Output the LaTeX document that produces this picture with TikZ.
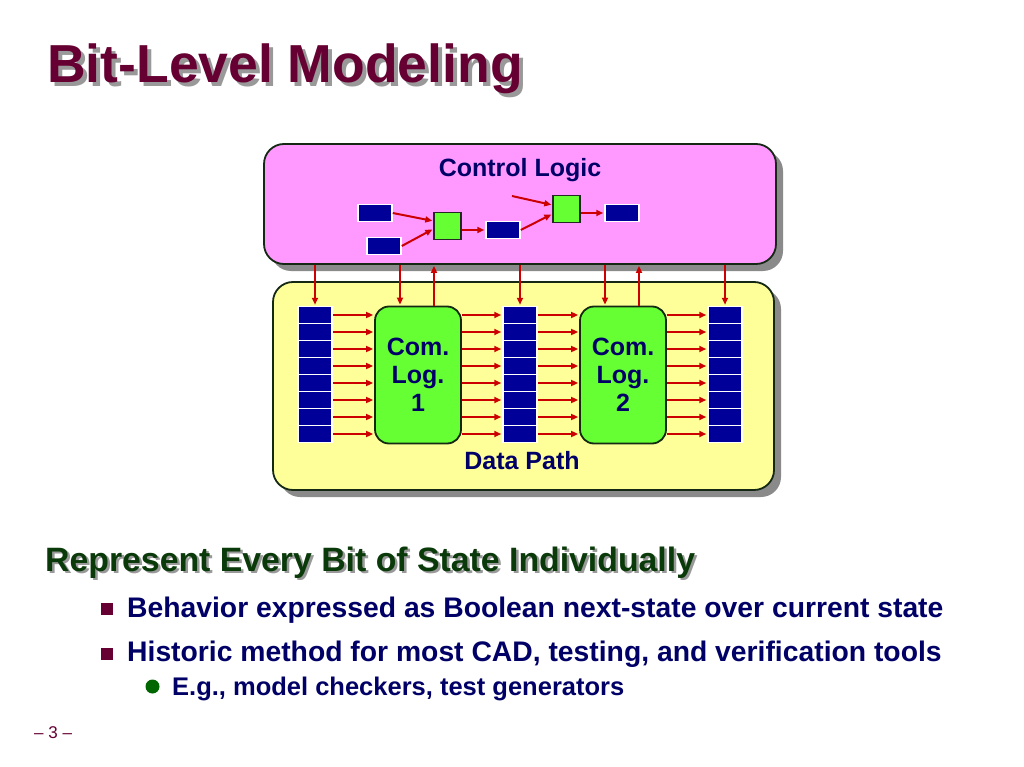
\documentclass[tikz,border=0pt]{standalone}
\usepackage{fontspec}
\setmainfont{Liberation Sans}
\usetikzlibrary{arrows.meta,shadows}
\definecolor{maroon}{HTML}{660033}
\definecolor{shade}{HTML}{999999}
\definecolor{boxshade}{HTML}{8A8A8A}
\definecolor{pinkfill}{HTML}{FF99FF}
\definecolor{yellowfill}{HTML}{FFFF99}
\definecolor{limefill}{HTML}{66FF33}
\definecolor{navyreg}{HTML}{000099}
\definecolor{navytext}{HTML}{000066}
\definecolor{wire}{HTML}{CC0000}
\definecolor{darkgreen}{HTML}{0A3A0A}
\definecolor{dotgreen}{HTML}{006600}
\definecolor{boxline}{HTML}{142814}
\newcommand\fsz[1]{\fontsize{#1}{#1}\selectfont}
\begin{document}
\begin{tikzpicture}[x=1pt,y=-1pt,
  bigbox/.style={draw=boxline, line width=1.8pt, rounded corners=20pt, inner sep=0pt,
     drop shadow={shadow xshift=7pt, shadow yshift=-7pt, fill=boxshade, opacity=1}},
  reg/.style={fill=navyreg, draw=white, line width=1.5pt, minimum width=34pt, minimum height=17pt, inner sep=0pt},
  gate/.style={fill=limefill, draw=black!85, line width=1.5pt, minimum size=27pt, inner sep=0pt},
  comb/.style={fill=limefill, draw=boxline, line width=1.8pt, rounded corners=14pt, minimum width=86pt, minimum height=137pt, inner sep=0pt, align=center, text=navytext, font=\bfseries\fontsize{25}{28}\selectfont},
  arr/.style={draw=wire, line width=2pt, shorten >=1pt, -{Triangle[length=7pt,width=6pt]}},
  lbl/.style={text=navytext, font=\bfseries\fsz{25}, inner sep=0pt, anchor=base},
  txt/.style={anchor=base west, inner sep=0pt},
]
\useasboundingbox (0,0) rectangle (1024,767);
\fill[white] (0,0) rectangle (1024,767);

% title
\node[txt, font=\bfseries\fsz{53.5}, text=shade] (titleshadow) at (51,87) {Bit-Level Modeling};
\node[txt, font=\bfseries\fsz{53.5}, text=maroon] (title) at (47,83) {Bit-Level Modeling};

% boxes
\node[bigbox, fill=pinkfill, minimum width=512pt, minimum height=120pt] (ctrl) at (520,204) {};
\node[lbl] (ctrltext) at (520,177) {Control Logic};
\node[bigbox, fill=yellowfill, minimum width=501pt, minimum height=208pt] (dp) at (523.5,386) {};
\node[lbl] (dptext) at (522,469) {Data Path};

% control logic internals
\node[reg] (c1) at (375,213) {};
\node[reg] (c2) at (384,246) {};
\node[reg] (c3) at (503,230) {};
\node[reg] (c4) at (622,213) {};
\node[gate] (g1) at (447.5,226) {};
\node[gate] (g2) at (566.5,209) {};
\coordinate (in2) at (512,196);
\draw[arr] (c1.east) -- ([yshift=5pt]g1.west);
\draw[arr] (c2.east) -- ([yshift=-3pt]g1.west);
\draw[arr] (g1.east |- c3) -- (c3.west);
\draw[arr] (c3.east) -- ([yshift=-5pt]g2.west);
\draw[arr] (in2) -- ([yshift=4pt]g2.west);
\draw[arr] (g2.east |- c4) -- (c4.west);

% data path
\foreach \c/\x in {1/315,2/520,3/725}
  \foreach \i in {0,...,7}
    \node[reg] (r\c-\i) at (\x,{315+17*\i}) {};
\node[comb] (cl1) at (418,375) {Com.\\Log.\\1};
\node[comb] (cl2) at (623,375) {Com.\\Log.\\2};
\foreach \i in {0,...,7} {
  \draw[arr] (r1-\i.east) -- (cl1.west |- r1-\i);
  \draw[arr] (cl1.east |- r1-\i) -- (r2-\i.west);
  \draw[arr] (r2-\i.east) -- (cl2.west |- r2-\i);
  \draw[arr] (cl2.east |- r2-\i) -- (r3-\i.west);
}
\coordinate (d1) at ([xshift=-18pt]cl1.north);
\coordinate (u1) at ([xshift=16pt]cl1.north);
\coordinate (d2) at ([xshift=-18pt]cl2.north);
\coordinate (u2) at ([xshift=16pt]cl2.north);
\draw[arr] (ctrl.south -| r1-0) -- (r1-0.north);
\draw[arr] (ctrl.south -| d1) -- (d1);
\draw[arr] (u1) -- (ctrl.south -| u1);
\draw[arr] (ctrl.south -| r2-0) -- (r2-0.north);
\draw[arr] (ctrl.south -| d2) -- (d2);
\draw[arr] (u2) -- (ctrl.south -| u2);
\draw[arr] (ctrl.south -| r3-0) -- (r3-0.north);

% text
\node[txt, font=\bfseries\fsz{33.8}, text=shade] (headshadow) at (47.5,573.5) {Represent Every Bit of State Individually};
\node[txt, font=\bfseries\fsz{33.8}, text=darkgreen] (head) at (45,571) {Represent Every Bit of State Individually};
\node[fill=maroon, minimum size=12pt, inner sep=0pt] (b1) at (106.5,609) {};
\node[txt, font=\bfseries\fsz{28.3}, text=navytext] (t1) at (127,617) {Behavior expressed as Boolean next-state over current state};
\node[fill=maroon, minimum size=12pt, inner sep=0pt] (b2) at (106.5,654) {};
\node[txt, font=\bfseries\fsz{28.3}, text=navytext] (t2) at (127,661) {Historic method for most CAD, testing, and verification tools};
\node[circle, fill=dotgreen, minimum size=14pt, inner sep=0pt] (b3) at (152.5,686.5) {};
\node[txt, font=\bfseries\fsz{25.5}, text=navytext] (t3) at (172,695) {E.g., model checkers, test generators};
\node[txt, font=\fsz{17}, text=maroon] (page) at (34,738) {\textendash{} 3 \textendash};
\end{tikzpicture}
\end{document}
